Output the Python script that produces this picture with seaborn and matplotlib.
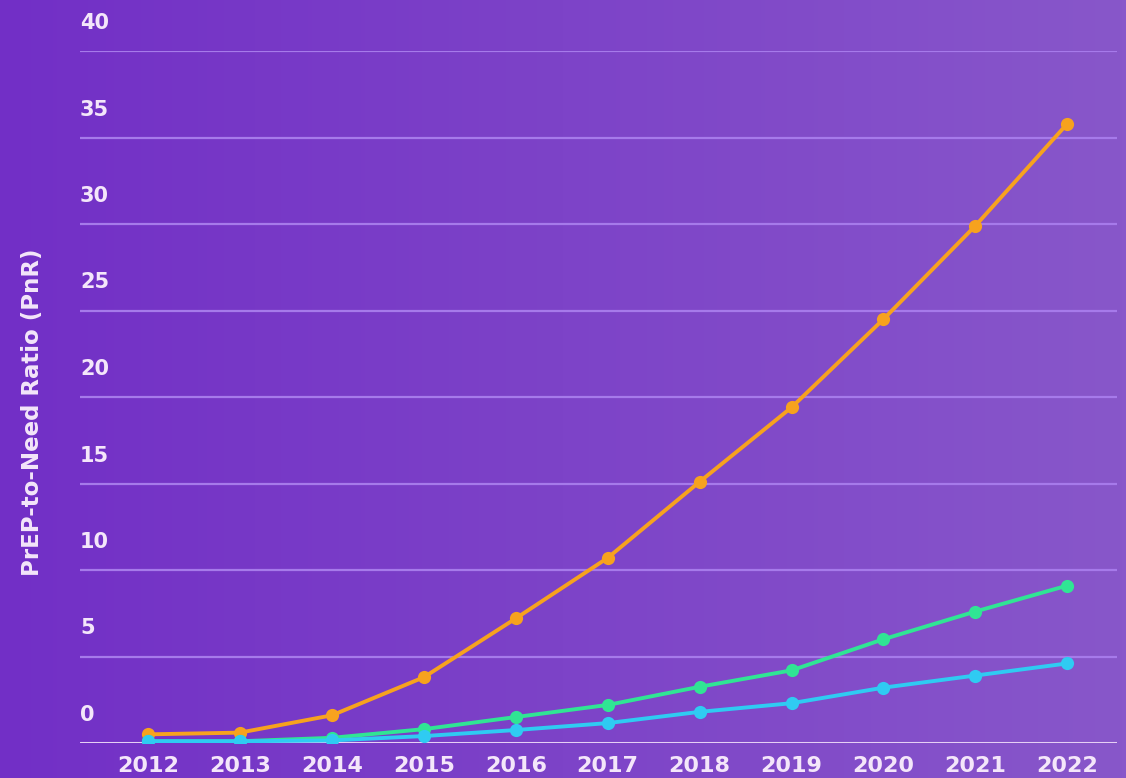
import numpy as np
import pandas as pd
import matplotlib.pyplot as plt
import matplotlib.transforms as mtransforms
import seaborn as sns

years = [2012, 2013, 2014, 2015, 2016, 2017, 2018, 2019, 2020, 2021, 2022]
orange = [0.5, 0.6, 1.6, 3.8, 7.2, 10.7, 15.1, 19.4, 24.5, 29.9, 35.8]
green = [0.1, 0.1, 0.3, 0.8, 1.5, 2.2, 3.25, 4.2, 6.0, 7.6, 9.1]
blue = [0.1, 0.1, 0.15, 0.4, 0.75, 1.15, 1.8, 2.3, 3.2, 3.9, 4.6]
y_ticks = [0, 5, 10, 15, 20, 25, 30, 35, 40]

df = pd.DataFrame({
    "Year": years * 3,
    "PnR": orange + green + blue,
    "Serie": ["orange"] * 11 + ["green"] * 11 + ["blue"] * 11,
})
colores = {"orange": "#F7A21E", "green": "#30E594", "blue": "#2FCBF2"}

sns.set_style("white")
plt.rcParams["font.family"] = ["DejaVu Sans"]
plt.rcParams["font.weight"] = "bold"

fig = plt.figure(figsize=(11.26, 7.78), dpi=100)

# fondo degradado
bg = fig.add_axes([0, 0, 1, 1])
grad = np.linspace(0, 1, 256)
c1 = np.array([0x72, 0x2F, 0xC6]) / 255
c2 = np.array([0x88, 0x57, 0xCA]) / 255
img = c1[None, :] + (c2 - c1)[None, :] * grad[:, None]
bg.imshow(img[None, :, :], aspect="auto", extent=[0, 1, 0, 1])
bg.axis("off")

ax = fig.add_axes([80 / 1126, 35 / 778, 1037 / 1126, 692 / 778])
ax.patch.set_alpha(0)

for y in y_ticks[1:]:
    ax.axhline(y, color="#A67AEA", lw=1.6, zorder=0)
ax.axhline(0, color="#E6CFF5", lw=2.2, zorder=0)

sns.lineplot(data=df, x="Year", y="PnR", hue="Serie", palette=colores,
             marker="o", markersize=9.5, markeredgewidth=0, linewidth=2.8,
             legend=False, ax=ax)

ax.set_xlim(2011.26, 2022.54)
ax.set_ylim(0, 40)
ax.set_xticks(years)
ax.set_xticklabels([str(y) for y in years], color="#F4E6FA", fontsize=16, fontweight="bold")
ax.set_yticks(y_ticks)
ax.set_yticklabels([str(y) for y in y_ticks], color="#F4E6FA", fontsize=15, fontweight="bold")
ax.tick_params(axis="x", length=0, pad=9)
ax.tick_params(axis="y", length=0, pad=0)
offset = mtransforms.ScaledTranslation(0, 30 / 100, fig.dpi_scale_trans)
for lab in ax.get_yticklabels():
    lab.set_horizontalalignment("left")
    lab.set_transform(lab.get_transform() + offset)
ax.set_xlabel("")
ax.set_ylabel("")
sns.despine(ax=ax, left=True, bottom=True, top=True, right=True)

fig.text(33 / 1126, 1 - 412 / 778, "PrEP-to-Need Ratio (PnR)", rotation=90,
         ha="center", va="center", color="#F4E6FA", fontsize=16.5, fontweight="bold")

fig.savefig("out.png", dpi=100)
